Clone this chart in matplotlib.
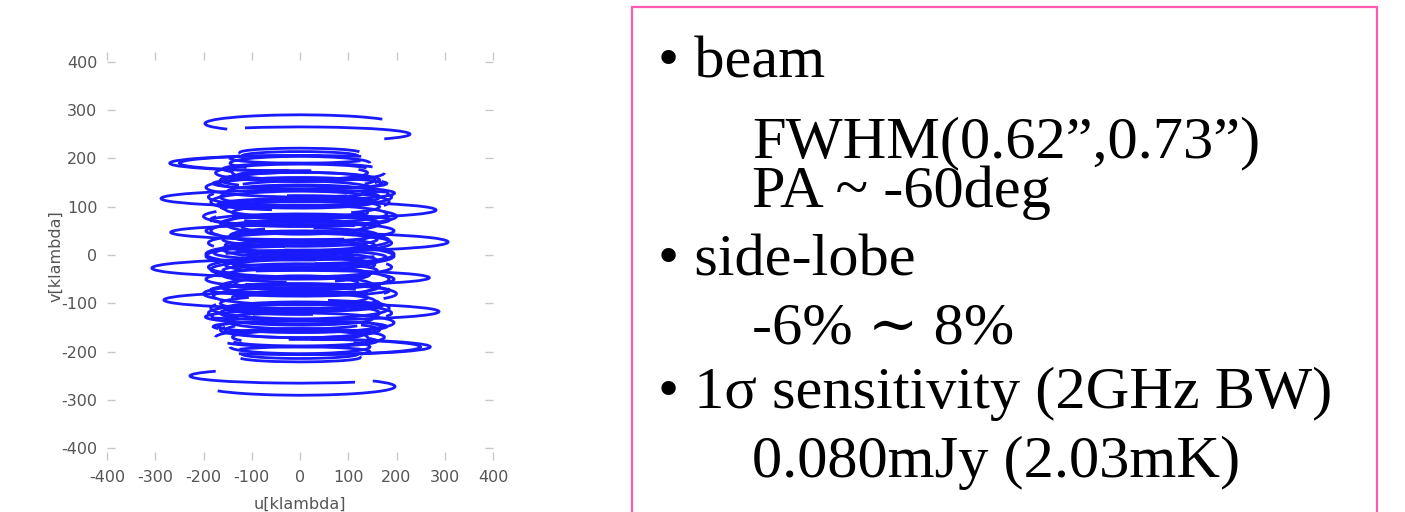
import numpy as np
import matplotlib.pyplot as plt
from matplotlib.patches import Arc, Rectangle

plt.rcParams["axes.unicode_minus"] = False

# uv tracks (one half; the conjugate half is drawn mirrored through the origin)
# centre v, half-width in u, half-height in v, start/end angle along the ellipse (deg)
track_v0 = [272, 250, 190, 117, 47, -27, -93, -128, -190,
            212, 200, 178, 165, 148, 132, 105, 88, 72, 58, 32, 18, 4,
            -12, -42, -58, -74, -110, -148, -163, -178, -205,
            190, 170, 155, 140, 120, 110, 95, 80, 65, 50, 40, 25, 12,
            -2, -20, -30, -50, -65, -85, -100, -120, -135, -155, -170]
track_a = [197, 228, 270, 288, 268, 307, 282, 196, 250,
           125, 145, 160, 130, 180, 150, 170, 140, 185, 120, 160, 140, 178,
           120, 160, 135, 185, 155, 170, 130, 140, 120,
           145, 175, 155, 195, 165, 185, 155, 200, 165, 185, 145, 190, 160,
           195, 155, 185, 195, 155, 180, 165, 190, 155, 165, 140]
track_b = [18, 15, 16, 17, 15, 19, 17, 14, 16,
           9, 10, 12, 10, 12, 13, 12, 14, 13, 12, 14, 12, 14,
           12, 14, 12, 15, 13, 12, 10, 10, 9,
           14, 18, 16, 20, 18, 22, 16, 20, 18, 22, 16, 20, 18,
           22, 16, 20, 18, 22, 18, 16, 20, 18, 16, 14]
track_t1 = [30, -40, 62, 50, 65, 70, 60, 75, -100,
            10, 150, 20, 100, 150, -20, 30, 110, -30, 60, 140, -10, 100,
            -40, 20, 110, -20, 40, 150, -10, 190, 180,
            0, 140, -30, 60, 160, -20, 80, 150, -40, 40, 120, -30, 60,
            150, -20, 80, 150, -30, 50, 130, -20, 70, 160, -10]
track_t2 = [220, 120, 275, 285, 290, 295, 290, 300, 95,
            190, 330, 210, 300, 380, 180, 250, 370, 190, 310, 390, 230, 330,
            190, 260, 350, 200, 280, 390, 190, 370, 360,
            220, 360, 200, 300, 400, 210, 330, 390, 190, 290, 380, 200, 320,
            400, 220, 320, 390, 210, 300, 380, 200, 320, 400, 210]

uv_ticks = [-400, -300, -200, -100, 0, 100, 200, 300, 400]

bullet_items = ["beam", "side-lobe", "1σ sensitivity (2GHz BW)"]
bullet_details = [["FWHM(0.62”,0.73”)", "PA ~ -60deg"],
                  ["-6% ∼ 8%"],
                  ["0.080mJy (2.03mK)"]]

W, H = 1405, 512
fig = plt.figure(figsize=(W / 100, H / 100), dpi=100)

ax = fig.add_axes([107 / W, 1 - 460 / H, 386 / W, 408 / H])


def geom_angle(eta, a, b):
    # Arc wants the real angle of the end point, not the ellipse parameter
    eta = np.deg2rad(eta)
    return np.rad2deg(np.arctan2(b * np.sin(eta), a * np.cos(eta)))


for v0, a, b, t1, t2 in zip(track_v0, track_a, track_b, track_t1, track_t2):
    g1, g2 = geom_angle(t1, a, b), geom_angle(t2, a, b)
    for sign, shift in ((1, 0), (-1, 180)):
        ax.add_patch(Arc((0, sign * v0), 2 * a, 2 * b, theta1=g1 + shift,
                         theta2=g2 + shift, color="#1a1aff", lw=2.0))

ax.set_xlim(-400, 400)
ax.set_ylim(-424, 420)
ax.set_xticks(uv_ticks)
ax.set_yticks(uv_ticks)
for s in ax.spines.values():
    s.set_visible(False)
ax.tick_params(direction="in", length=6, width=1, color="#c8c8c8",
               labelcolor="#555555", labelsize=11.5,
               top=True, right=True, pad=7)
ax.set_xlabel("u[klambda]", fontsize=11.5, color="#555555")
ax.set_ylabel("v[klambda]", fontsize=11.5, color="#555555")
ax.xaxis.set_label_coords(0.5, -0.09)
ax.yaxis.set_label_coords(-0.112, 0.5)

# text panel with pink frame
fig.patches.append(Rectangle((632 / W, -0.05), (1377 - 632) / W, 1.05 - 7 / H,
                             transform=fig.transFigure, fill=False,
                             edgecolor="#ff5cb0", lw=1.6))

serif = ["Liberation Serif", "DejaVu Serif"]
fs = 43.5
line_y = [78, 157, 207, 275, 343, 408, 477]
k = 0
for item, details in zip(bullet_items, bullet_details):
    fig.text(658 / W, 1 - line_y[k] / H, "• " + item, family=serif,
             fontsize=fs, va="baseline", ha="left")
    k += 1
    for d in details:
        fig.text(752 / W, 1 - line_y[k] / H, d, family=serif,
                 fontsize=fs, va="baseline", ha="left")
        k += 1

fig.savefig("out.png", dpi=100)
